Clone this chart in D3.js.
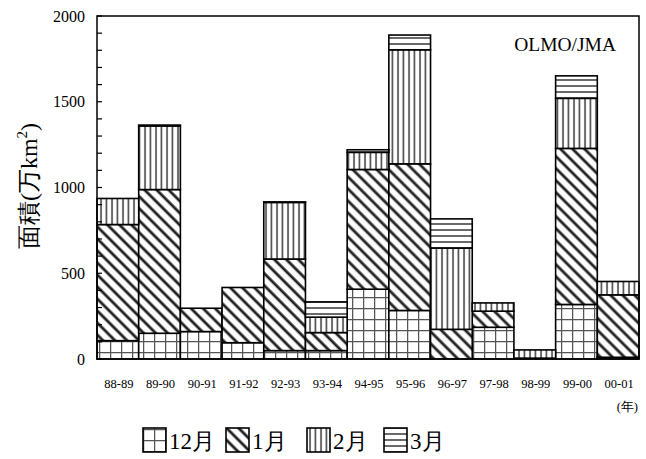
<!DOCTYPE html>
<html><head><meta charset="utf-8">
<script src="https://cdn.jsdelivr.net/npm/d3@7"></script>
<style>body{margin:0;background:#fff}</style>
</head><body>
<svg id="c" width="646" height="459"></svg>
<script>
const categories = ["88-89","89-90","90-91","91-92","92-93","93-94","94-95","95-96","96-97","97-98","98-99","99-00","00-01"];
const dec = [107,150,160,95,49,49,407,283,0,185,5,318,10];
const jan = [677,838,136,322,534,105,698,855,173,94,0,910,364];
const feb = [152,371,0,0,330,90,100,665,474,48,48,292,78];
const mar = [0,5,0,0,3,89,15,86,170,0,0,131,0];
const seriesNames = ["12月","1月","2月","3月"];
const yTicks = [0,500,1000,1500,2000];

(function(){
const svg = d3.select("#c");
const serif = "'Liberation Serif','DejaVu Serif',serif";
const pL = 97, pR = 639, pT = 16, pB = 359;

const defs = svg.append("defs");
const pg = defs.append("pattern").attr("id","p0").attr("patternUnits","userSpaceOnUse").attr("width",11).attr("height",11);
pg.append("rect").attr("width",11).attr("height",11).attr("fill","#fff");
pg.append("path").attr("d","M0,0.5H11M0.5,0V11").attr("stroke","#555").attr("stroke-width",1.5);
const pd = defs.append("pattern").attr("id","p1").attr("patternUnits","userSpaceOnUse").attr("width",8.5).attr("height",8.5).attr("patternTransform","rotate(-45)");
pd.append("rect").attr("width",8.5).attr("height",8.5).attr("fill","#fff");
pd.append("line").attr("x1",2).attr("x2",2).attr("y1",0).attr("y2",8.5).attr("stroke","#222").attr("stroke-width",2.8);
const pv = defs.append("pattern").attr("id","p2").attr("patternUnits","userSpaceOnUse").attr("width",5.5).attr("height",10);
pv.append("rect").attr("width",5.5).attr("height",10).attr("fill","#fff");
pv.append("line").attr("x1",2).attr("x2",2).attr("y1",0).attr("y2",10).attr("stroke","#444").attr("stroke-width",1.6);
const ph = defs.append("pattern").attr("id","p3").attr("patternUnits","userSpaceOnUse").attr("width",10).attr("height",6);
ph.append("rect").attr("width",10).attr("height",6).attr("fill","#fff");
ph.append("line").attr("x1",0).attr("x2",10).attr("y1",2).attr("y2",2).attr("stroke","#444").attr("stroke-width",1.6);

const x = d3.scaleBand().domain(categories).range([pL,pR]).padding(0);
const y = d3.scaleLinear().domain([0,2000]).range([pB,pT]);

const rows = categories.map((c,i)=>({cat:c,"12月":dec[i],"1月":jan[i],"2月":feb[i],"3月":mar[i]}));
const stack = d3.stack().keys(seriesNames)(rows);

stack.forEach((s,si)=>{
  svg.append("g").selectAll("rect").data(s.filter(d=>d[1]-d[0]>0)).join("rect")
    .attr("x",d=>x(d.data.cat)).attr("width",x.bandwidth())
    .attr("y",d=>y(d[1])).attr("height",d=>y(d[0])-y(d[1]))
    .attr("fill",`url(#p${si})`).attr("stroke","#000").attr("stroke-width",1.6);
});

svg.append("rect").attr("x",pL).attr("y",pT).attr("width",pR-pL).attr("height",pB-pT)
  .attr("fill","none").attr("stroke","#000").attr("stroke-width",1.5);

const ticks = d3.range(0,2001,100);
svg.append("g").selectAll("line").data(ticks).join("line")
  .attr("x1",pL).attr("x2",pL+5).attr("y1",d=>y(d)).attr("y2",d=>y(d))
  .attr("stroke","#000").attr("stroke-width",1.2);

svg.append("g").selectAll("text").data(yTicks).join("text")
  .attr("x",85).attr("y",d=>y(d)).attr("dy","0.35em").attr("text-anchor","end")
  .attr("font-family",serif).attr("font-size",16).attr("fill","#000").text(d=>d);

svg.append("g").selectAll("text").data(categories).join("text")
  .attr("x",d=>x(d)+x.bandwidth()/2+1).attr("y",388).attr("text-anchor","middle")
  .attr("font-family",serif).attr("font-size",12.5).attr("fill","#000").text(d=>d);

svg.append("text").attr("x",638).attr("y",411).attr("text-anchor","end")
  .attr("font-family",serif).attr("font-size",12.5).attr("fill","#000").text("(年)");

const yt = svg.append("text").attr("transform","translate(37,186) rotate(-90)").attr("text-anchor","middle")
  .attr("font-family",serif).attr("font-size",24).attr("fill","#000");
yt.append("tspan").text("面積(万km");
yt.append("tspan").attr("font-size",15).attr("dy",-10).text("2");
yt.append("tspan").attr("dy",10).text(")");

svg.append("text").attr("x",616).attr("y",51).attr("text-anchor","end")
  .attr("font-family",serif).attr("font-size",19.5).attr("fill","#000").text("OLMO/JMA");

const legX = [143,226,307,384];
seriesNames.forEach((n,i)=>{
  svg.append("rect").attr("x",legX[i]).attr("y",428).attr("width",23).attr("height",24)
    .attr("fill",`url(#p${i})`).attr("stroke","#000").attr("stroke-width",1.6);
  svg.append("text").attr("x",legX[i]+26).attr("y",449).attr("font-family",serif).attr("font-size",23).attr("fill","#000").text(n);
});
})();
</script>
</body></html>
